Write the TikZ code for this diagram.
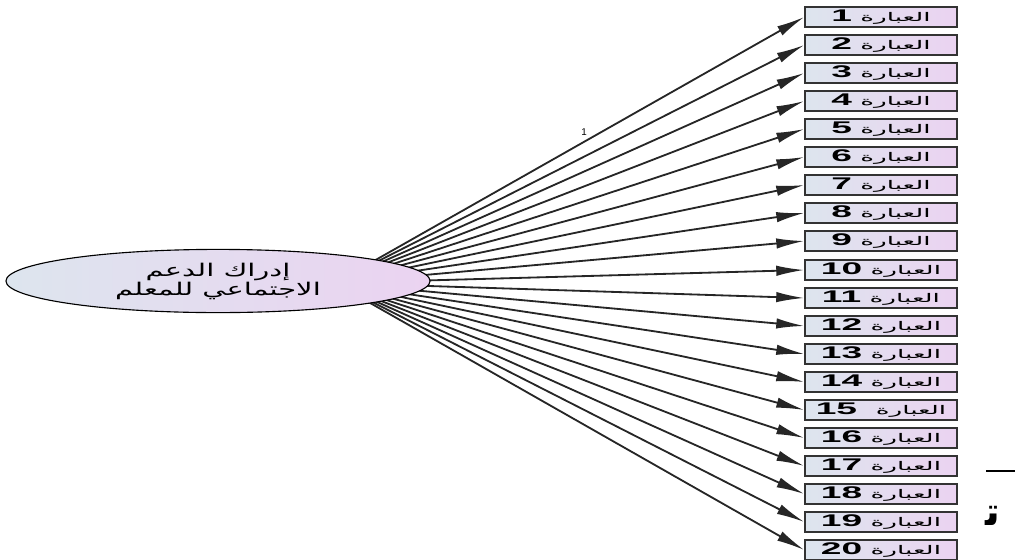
\documentclass[tikz,border=0pt]{standalone}
\usepackage{fontspec}
\usepackage{graphicx}
\setmainfont{Liberation Sans}
\newfontfamily\arabicfont[Script=Arabic]{DejaVu Sans}
\TeXXeTstate=1
\usetikzlibrary{shapes.geometric,arrows.meta}
\definecolor{itemleft}{HTML}{DDE5EE}
\definecolor{itemright}{HTML}{EBD3F1}
\definecolor{itemline}{HTML}{333333}
\tikzset{
  itembox/.style={draw=itemline,line width=1pt,left color=itemleft,right color=itemright,minimum width=3.8cm,minimum height=0.5cm,inner sep=0pt},
  latent/.style={ellipse,draw=black,line width=0.8pt,left color=itemleft,right color=itemright,minimum width=10.6cm,minimum height=1.58cm,inner sep=0pt,align=center,font=\arabicfont\fontsize{12.5}{12.5}\selectfont},
  loading/.style={-{Latex[length=7mm,width=2.6mm]},line width=1.3pt,draw=black!85}
}
\newcommand{\itemtxt}[1]{\scalebox{2.2}[1]{\arabicfont\fontsize{8.5}{10}\selectfont\beginR العبارة \beginL\textbf{\rmfamily\fontsize{12}{10}\selectfont #1}\endL\endR}}
\newcommand{\widetxt}[1]{\scalebox{1.65}[1]{\beginR #1\endR}}

\begin{document}
\begin{tikzpicture}[x=0.025cm,y=-0.025cm] %one unit is one pixel of the 1015x560 picture
\useasboundingbox (0,0) rectangle (1015,560); %picture frame
\node[itembox] (q1) at (881,17) {\itemtxt{1}};
\node[itembox] (q2) at (881,45) {\itemtxt{2}};
\node[itembox] (q3) at (881,73) {\itemtxt{3}};
\node[itembox] (q4) at (881,101) {\itemtxt{4}};
\node[itembox] (q5) at (881,129) {\itemtxt{5}};
\node[itembox] (q6) at (881,157) {\itemtxt{6}};
\node[itembox] (q7) at (881,185) {\itemtxt{7}};
\node[itembox] (q8) at (881,213) {\itemtxt{8}};
\node[itembox] (q9) at (881,241) {\itemtxt{9}};
\node[itembox] (q10) at (881,270) {\itemtxt{10}};
\node[itembox] (q11) at (881,298) {\itemtxt{11}};
\node[itembox] (q12) at (881,326) {\itemtxt{12}};
\node[itembox] (q13) at (881,354) {\itemtxt{13}};
\node[itembox] (q14) at (881,382) {\itemtxt{14}};
\node[itembox] (q15) at (881,410) {\itemtxt{15\ }};
\node[itembox] (q16) at (881,438) {\itemtxt{16}};
\node[itembox] (q17) at (881,466) {\itemtxt{17}};
\node[itembox] (q18) at (881,494) {\itemtxt{18}};
\node[itembox] (q19) at (881,522) {\itemtxt{19}};
\node[itembox] (q20) at (881,550) {\itemtxt{20}};
\coordinate (hub) at (335,283); %lines meet behind the ellipse
\draw[loading] (hub) -- (q1.west);
\draw[loading] (hub) -- (q2.west);
\draw[loading] (hub) -- (q3.west);
\draw[loading] (hub) -- (q4.west);
\draw[loading] (hub) -- (q5.west);
\draw[loading] (hub) -- (q6.west);
\draw[loading] (hub) -- (q7.west);
\draw[loading] (hub) -- (q8.west);
\draw[loading] (hub) -- (q9.west);
\draw[loading] (hub) -- (q10.west);
\draw[loading] (hub) -- (q11.west);
\draw[loading] (hub) -- (q12.west);
\draw[loading] (hub) -- (q13.west);
\draw[loading] (hub) -- (q14.west);
\draw[loading] (hub) -- (q15.west);
\draw[loading] (hub) -- (q16.west);
\draw[loading] (hub) -- (q17.west);
\draw[loading] (hub) -- (q18.west);
\draw[loading] (hub) -- (q19.west);
\draw[loading] (hub) -- (q20.west);
\node[latent] (support) at (218,281) {\widetxt{إدراك الدعم}\\\widetxt{الاجتماعي للمعلم}}; %latent variable
\node[font=\fontsize{7}{7}\selectfont] (fix) at (584,132) {1}; %fixed loading
\coordinate (rulea) at (986,471);
\coordinate (ruleb) at (1015,471);
\draw[line width=1.2pt] (rulea) -- (ruleb); %cut-off rule
\node[font=\arabicfont\bfseries\fontsize{28}{28}\selectfont,inner sep=0pt] (cut) at (993,516) {ﺗ}; %cut-off letter
\end{tikzpicture}
\end{document}
